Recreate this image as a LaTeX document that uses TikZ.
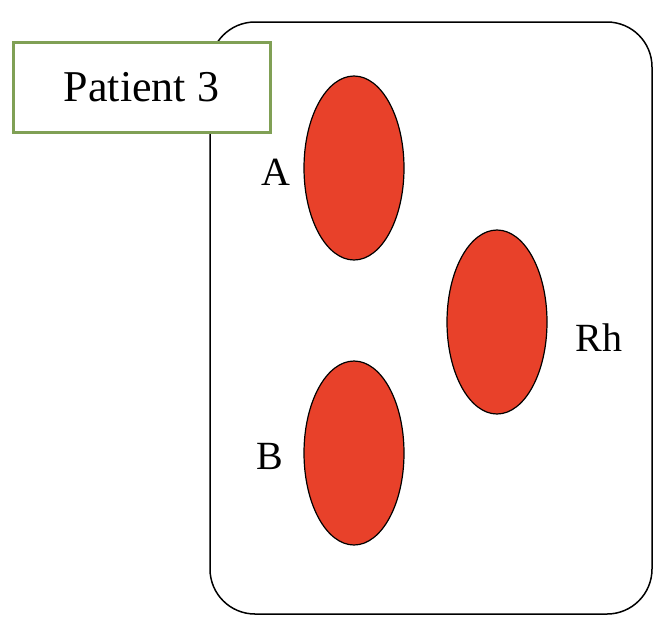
\documentclass[tikz,border=0pt]{standalone}
\usepackage{fontspec}
\setmainfont{Liberation Serif}
\usetikzlibrary{shapes.geometric}
\definecolor{antigen}{HTML}{E8412A}
\definecolor{boxgreen}{HTML}{80A055}
\tikzset{
  ag/.style={ellipse, draw=black, line width=1.2pt, fill=antigen, minimum width=100pt, minimum height=184pt, inner sep=0pt},
  lbl/.style={font=\fontsize{40}{40}\selectfont, inner sep=0pt}
}
\begin{document}
\begin{tikzpicture}[x=1pt,y=-1pt]
\useasboundingbox (0,0) rectangle (658,622);
\draw[line width=1.5pt, rounded corners=45pt] (210,22) rectangle (652,614);
\node[draw=boxgreen, line width=3pt, fill=white, minimum width=257pt, minimum height=90pt, font=\fontsize{44}{44}\selectfont] (title) at (141.5,87) {Patient 3};
\node[ag] (a) at (354,168) {};
\node[ag] (rh) at (497,322) {};
\node[ag] (b) at (354,453) {};
\node[lbl] (la) at (276,172) {A};
\node[lbl] (lrh) at (599,338) {Rh};
\node[lbl] (lb) at (270,456) {B};
\end{tikzpicture}
\end{document}
